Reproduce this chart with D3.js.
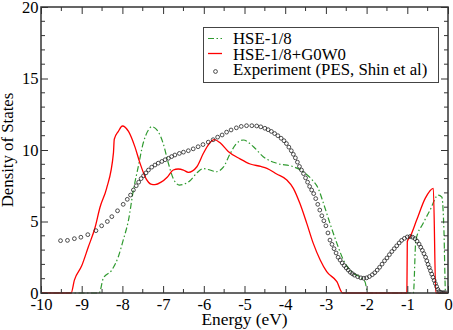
<!DOCTYPE html>
<html>
<head>
<meta charset="utf-8">
<script src="https://cdn.jsdelivr.net/npm/d3@7"></script>
<style>
  html, body { margin: 0; padding: 0; background: #fff; }
  svg { display: block; }
  svg text { font-family: "Liberation Serif", "Times New Roman", Times, serif; }
</style>
</head>
<body>
<svg id="chart" width="453" height="330"></svg>
<script>
// HSE-1/8 (green dash-dot)
const hseX = [-10, -8.57, -8.47, -8.26, -8.1, -7.98, -7.85, -7.73, -7.61, -7.49, -7.36, -7.28, -7.12, -7.0, -6.87,
  -6.75, -6.6, -6.5, -6.34, -6.17, -6.01, -5.85, -5.7, -5.52, -5.36, -5.2, -5.03, -4.78, -4.54, -4.21,
  -3.8, -3.56, -3.35, -3.19, -3.06, -2.9, -2.73, -2.57, -2.37, -2.16, -2.04, -1.97, -0.85, -0.79, -0.61,
  -0.44, -0.24, -0.15, -0.1, -0.06, 0];
const hseY = [0, 0, 1.03, 1.6, 2.54, 3.7, 5.1, 7.2, 8.83, 10.47, 11.4, 11.63, 11.28, 10.47, 9.07,
  8.0, 7.55, 7.6, 7.85, 8.4, 8.7, 8.6, 8.48, 8.8, 9.7, 10.45, 10.7, 10.23, 9.53, 9.07,
  8.83, 8.48, 7.95, 7.32, 6.27, 4.87, 3.47, 2.31, 1.49, 1.1, 0.79, 0, 0, 3.7, 4.87,
  5.8, 6.85, 6.7, 4.4, 0, 0];

// HSE-1/8+G0W0 (red)
const gwX = [-10, -9.26, -9.18, -9.0, -8.84, -8.67, -8.55, -8.39, -8.22, -8.2, -8.1, -8.0, -7.85, -7.69, -7.57,
  -7.42, -7.3, -7.2, -7.05, -6.9, -6.75, -6.63, -6.5, -6.38, -6.17, -6.01, -5.88, -5.74, -5.6, -5.4,
  -5.11, -4.86, -4.6, -4.45, -4.21, -3.96, -3.8, -3.64, -3.47, -3.31, -3.14, -2.98, -2.73, -2.59, -1.01,
  -1.0, -0.93, -0.77, -0.56, -0.36, -0.3, 0];
const gwY = [0, 0, 0.9, 1.9, 3.2, 4.6, 6.0, 7.3, 9.8, 10.75, 11.3, 11.68, 11.3, 10.2, 9.1,
  8.0, 7.62, 7.58, 7.75, 8.1, 8.6, 8.67, 8.6, 8.44, 8.83, 9.77, 10.4, 10.72, 10.5, 9.9,
  9.38, 9.02, 8.85, 8.72, 8.32, 7.9, 7.32, 6.27, 4.87, 3.47, 2.31, 1.49, 0.79, 0, 0,
  3.6, 3.94, 5.1, 6.62, 7.32, 0, 0];

// Experiment (PES, Shin et al) - open circles
const expX = [-9.52, -9.35, -9.18, -9.02, -8.85, -8.65, -8.51, -8.37, -8.26, -8.12, -7.98, -7.88, -7.8, -7.73, -7.66,
  -7.6, -7.54, -7.48, -7.42, -7.36, -7.28, -7.2, -7.12, -7.03, -6.95, -6.87, -6.79, -6.71, -6.6, -6.5,
  -6.38, -6.26, -6.14, -6.02, -5.89, -5.77, -5.66, -5.55, -5.44, -5.33, -5.2, -5.08, -4.95, -4.82, -4.7,
  -4.6, -4.5, -4.42, -4.34, -4.26, -4.18, -4.1, -4.03, -3.97, -3.91, -3.85, -3.8, -3.75, -3.7, -3.65,
  -3.6, -3.55, -3.5, -3.45, -3.4, -3.35, -3.3, -3.25, -3.2, -3.15, -3.1, -3.05, -3.0, -2.95, -2.9,
  -2.85, -2.8, -2.75, -2.7, -2.65, -2.6, -2.55, -2.5, -2.45, -2.4, -2.35, -2.3, -2.22, -2.14, -2.07,
  -2.0, -1.93, -1.86, -1.8, -1.74, -1.68, -1.62, -1.56, -1.5, -1.44, -1.38, -1.32, -1.26, -1.2, -1.14,
  -1.07, -1.0, -0.93, -0.87, -0.81, -0.76, -0.71, -0.67, -0.63, -0.59, -0.55, -0.52, -0.49, -0.46, -0.43,
  -0.4, -0.37, -0.34, -0.31, -0.28, -0.25, -0.22, -0.18, -0.14, -0.1, -0.06];
const expY = [3.66, 3.68, 3.8, 3.9, 4.08, 4.36, 4.7, 5.0, 5.34, 5.75, 6.2, 6.55, 6.85, 7.2, 7.5,
  7.75, 8.0, 8.2, 8.4, 8.6, 8.8, 8.95, 9.08, 9.2, 9.32, 9.42, 9.54, 9.65, 9.76, 9.85,
  9.95, 10.08, 10.23, 10.38, 10.55, 10.72, 10.9, 11.05, 11.25, 11.4, 11.55, 11.65, 11.7, 11.7, 11.68,
  11.62, 11.52, 11.42, 11.3, 11.15, 11.0, 10.82, 10.65, 10.45, 10.2, 9.95, 9.7, 9.45, 9.15, 8.85,
  8.6, 8.35, 8.05, 7.75, 7.45, 7.2, 6.95, 6.6, 6.2, 5.8, 5.4, 5.05, 4.7, 4.2, 3.7,
  3.4, 3.1, 2.8, 2.5, 2.3, 2.1, 1.92, 1.75, 1.6, 1.45, 1.35, 1.25, 1.14, 1.06, 1.03,
  1.06, 1.15, 1.28, 1.42, 1.6, 1.8, 2.02, 2.25, 2.45, 2.68, 2.9, 3.1, 3.3, 3.5, 3.68,
  3.82, 3.92, 3.95, 3.9, 3.8, 3.62, 3.42, 3.2, 2.98, 2.75, 2.5, 2.25, 2.0, 1.78, 1.55,
  1.32, 1.1, 0.88, 0.66, 0.45, 0.25, 0.1, 0.04, 0.02, 0.02, 0.02];

const xTicks = [-10, -9, -8, -7, -6, -5, -4, -3, -2, -1, 0];
const yTicks = [0, 5, 10, 15, 20];

const legendLabels = ['HSE-1/8', 'HSE-1/8+G0W0', 'Experiment (PES, Shin et al)'];

const svg = d3.select('#chart');
const mLeft = 41, mRight = 448, mTop = 7, mBottom = 293;
const serif = '"Liberation Serif", "Times New Roman", Times, serif';

const x = d3.scaleLinear().domain([-10, 0]).range([mLeft, mRight]);
const y = d3.scaleLinear().domain([0, 20]).range([mBottom, mTop]);

const green = '#2f9a2f';
const red = '#ff0000';

svg.append('defs').append('clipPath').attr('id', 'clip')
  .append('rect').attr('x', mLeft).attr('y', mTop).attr('width', mRight - mLeft).attr('height', mBottom - mTop + 1);

const plot = svg.append('g').attr('clip-path', 'url(#clip)');

const line = d3.line().x((d) => x(d[0])).y((d) => y(d[1])).curve(d3.curveMonotoneX);

plot.append('path')
  .datum(d3.zip(hseX, hseY))
  .attr('d', line)
  .attr('fill', 'none')
  .attr('stroke', green)
  .attr('stroke-width', 1.2)
  .attr('stroke-dasharray', '6,2.5,1.5,2.5');

plot.append('path')
  .datum(d3.zip(gwX, gwY))
  .attr('d', line)
  .attr('fill', 'none')
  .attr('stroke', red)
  .attr('stroke-width', 1.3);

plot.append('g')
  .selectAll('circle')
  .data(d3.zip(expX, expY))
  .join('circle')
  .attr('cx', (d) => x(d[0]))
  .attr('cy', (d) => y(d[1]))
  .attr('r', 1.9)
  .attr('fill', 'none')
  .attr('stroke', '#222')
  .attr('stroke-width', 0.8);

// axes: ticks point inward on all four sides
const axisColor = '#333';
const fmt = (d) => String(d);
const bottomAxis = d3.axisBottom(x).tickValues(xTicks).tickSize(-7).tickPadding(5).tickFormat(fmt);
const topAxis = d3.axisTop(x).tickValues(xTicks).tickSize(-7).tickFormat('');
const leftAxis = d3.axisLeft(y).tickValues(yTicks).tickSize(-7).tickPadding(2.5).tickFormat(fmt);
const rightAxis = d3.axisRight(y).tickValues(yTicks).tickSize(-7).tickFormat('');

const minorX = d3.range(-9.5, 0, 1);
const minorY = d3.range(0, 21, 1).filter((v) => v % 5 !== 0);

function styleAxis(gAxis) {
  gAxis.attr('font-family', serif).attr('font-size', 16.5);
  gAxis.select('.domain').remove();
  gAxis.selectAll('line').attr('stroke', axisColor).attr('stroke-width', 1);
  gAxis.selectAll('text').attr('fill', '#000');
}

svg.append('g').attr('transform', `translate(0,${mBottom})`).call(bottomAxis).call(styleAxis);
svg.append('g').attr('transform', `translate(0,${mTop})`).call(topAxis).call(styleAxis);
svg.append('g').attr('transform', `translate(${mLeft},0)`).call(leftAxis).call(styleAxis);
svg.append('g').attr('transform', `translate(${mRight},0)`).call(rightAxis).call(styleAxis);

const minorG = svg.append('g').attr('stroke', axisColor).attr('stroke-width', 1);
minorX.forEach((v) => {
  minorG.append('line').attr('x1', x(v)).attr('x2', x(v)).attr('y1', mBottom).attr('y2', mBottom - 4);
  minorG.append('line').attr('x1', x(v)).attr('x2', x(v)).attr('y1', mTop).attr('y2', mTop + 4);
});
minorY.forEach((v) => {
  minorG.append('line').attr('x1', mLeft).attr('x2', mLeft + 4).attr('y1', y(v)).attr('y2', y(v));
  minorG.append('line').attr('x1', mRight).attr('x2', mRight - 4).attr('y1', y(v)).attr('y2', y(v));
});

svg.append('rect')
  .attr('x', mLeft).attr('y', mTop)
  .attr('width', mRight - mLeft).attr('height', mBottom - mTop)
  .attr('fill', 'none').attr('stroke', axisColor).attr('stroke-width', 1.5);

svg.append('text')
  .attr('x', (mLeft + mRight) / 2).attr('y', 324.5)
  .attr('text-anchor', 'middle')
  .attr('font-family', serif).attr('font-size', 17.4)
  .text('Energy (eV)');

svg.append('text')
  .attr('transform', `translate(12.5,${(mTop + mBottom) / 2}) rotate(-90)`)
  .attr('text-anchor', 'middle')
  .attr('font-family', serif).attr('font-size', 16.8)
  .text('Density of States');

// legend
const legend = svg.append('g');
legend.append('rect')
  .attr('x', 203.5).attr('y', 27.5).attr('width', 235).attr('height', 55)
  .attr('fill', '#fff').attr('stroke', '#444').attr('stroke-width', 1);

const rowY = [38.5, 53.5, 69.5];
legend.append('line').attr('x1', 208).attr('x2', 222).attr('y1', rowY[0]).attr('y2', rowY[0])
  .attr('stroke', green).attr('stroke-width', 1.2).attr('stroke-dasharray', '6,2.5,1.5,2.5');
legend.append('line').attr('x1', 208).attr('x2', 222).attr('y1', rowY[1]).attr('y2', rowY[1])
  .attr('stroke', red).attr('stroke-width', 1.3);
legend.append('circle').attr('cx', 215.5).attr('cy', rowY[2] + 2).attr('r', 1.9)
  .attr('fill', 'none').attr('stroke', '#222').attr('stroke-width', 0.8);

legend.selectAll('text.lab')
  .data(legendLabels)
  .join('text')
  .attr('class', 'lab')
  .attr('x', 233)
  .attr('y', (d, i) => [43.5, 59.5, 75][i])
  .attr('font-family', serif).attr('font-size', 16.8)
  .text((d) => d);
</script>
</body>
</html>
